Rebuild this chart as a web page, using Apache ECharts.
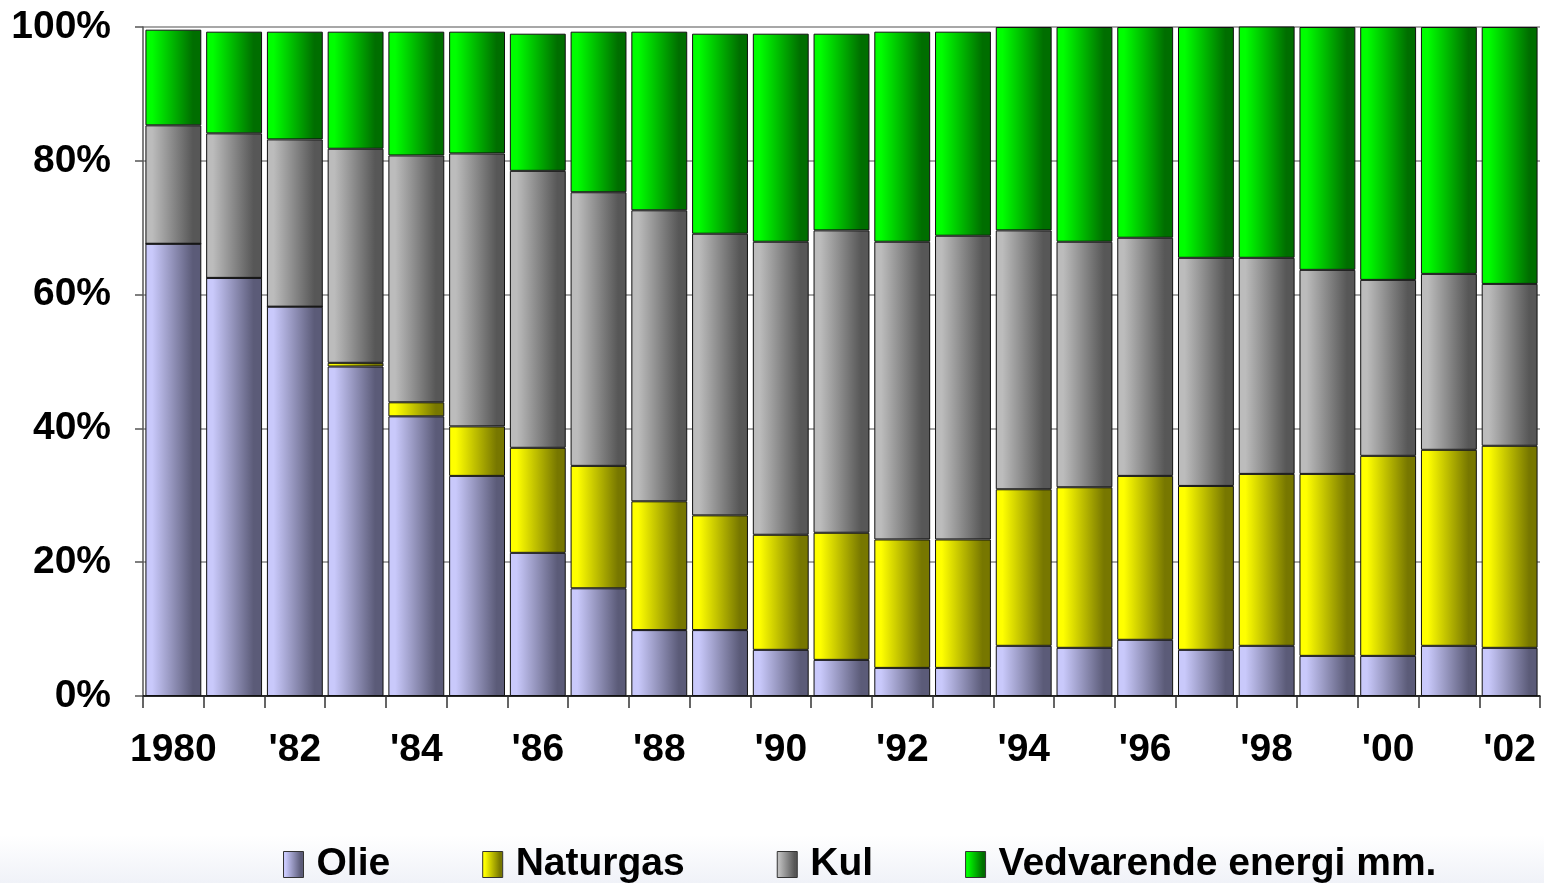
<!DOCTYPE html>
<html>
<head>
<meta charset="utf-8">
<script src="https://cdn.jsdelivr.net/npm/echarts@6/dist/echarts.min.js"></script>
<style>
html,body{margin:0;padding:0;background:#fff;}
#chart{width:1544px;height:883px;}
</style>
</head>
<body>
<div id="chart"></div>
<script>
const categories = ['1980',"'81","'82","'83","'84","'85","'86","'87","'88","'89","'90","'91","'92","'93","'94","'95","'96","'97","'98","'99","'00","'01","'02"];
const olie      = [67.6,62.5,58.2,49.25,41.8,32.9,21.4,16.1,9.85,9.85,6.9,5.4,4.2,4.2,7.5,7.2,8.4,6.9,7.5,6.0,6.0,7.5,7.2];
const naturgas  = [0,0,0,0.55,2.1,7.4,15.7,18.3,19.25,17.15,17.2,19.0,19.2,19.2,23.4,24.0,24.5,24.5,25.7,27.2,29.9,29.3,30.2];
const kul       = [17.7,21.6,25.0,32.0,36.9,40.8,41.4,40.9,43.5,42.1,43.8,45.2,44.5,45.4,38.7,36.7,35.6,34.1,32.3,30.5,26.3,26.3,24.2];
const vedvarende= [14.3,15.2,16.1,17.5,18.5,18.2,20.5,24.0,26.7,29.9,31.1,29.4,31.4,30.5,30.4,32.1,31.5,34.5,34.8,36.3,37.8,36.9,38.4];
const yTicks = [0,20,40,60,80,100];
const seriesNames = ['Olie','Naturgas','Kul','Vedvarende energi mm.'];

function grad(light, dark){
  return new echarts.graphic.LinearGradient(0,0,1,0,[
    {offset:0,color:light},{offset:0.12,color:light},{offset:0.85,color:dark},{offset:1,color:dark}
  ]);
}
const fills = [
  grad('#c9c9fb','#5b5b78'),
  grad('#ffff00','#777700'),
  grad('#bcbcbc','#575757'),
  grad('#00ff00','#006e00')
];
const dataSets = [olie, naturgas, kul, vedvarende];
const font = '"Liberation Sans", Arial, sans-serif';

const chart = echarts.init(document.getElementById('chart'), null, {renderer:'canvas'});
chart.setOption({
  animation:false,
  backgroundColor:'#ffffff',
  graphic:[{
    type:'rect', left:0, top:835, silent:true, z:-10,
    shape:{width:1544,height:48},
    style:{fill:new echarts.graphic.LinearGradient(0,0,0,1,[{offset:0,color:'#ffffff'},{offset:1,color:'#f0f2f8'}])}
  }],
  grid:{left:143,right:4,top:27,bottom:187,containLabel:false},
  legend:{
    data:seriesNames,
    left:278, top:840,
    itemWidth:20, itemHeight:26, itemGap:92,
    icon:'rect',
    itemStyle:{borderColor:'#333',borderWidth:1},
    textStyle:{fontFamily:font,fontSize:39,fontWeight:'bold',color:'#000',padding:[0,0,0,8]}
  },
  xAxis:{
    type:'category',
    data:categories,
    boundaryGap:true,
    axisLine:{lineStyle:{color:'#000',width:1.5}},
    axisTick:{show:true,interval:0,length:12,lineStyle:{color:'#333',width:1.5}},
    axisLabel:{interval:1,margin:35,fontFamily:font,fontSize:39,fontWeight:'bold',color:'#000'}
  },
  yAxis:{
    type:'value',
    min:yTicks[0], max:yTicks[yTicks.length-1], interval:20,
    axisLine:{show:true,lineStyle:{color:'#555',width:1.5}},
    axisTick:{show:true,length:8,lineStyle:{color:'#555',width:1.5}},
    axisLabel:{margin:32,formatter:'{value}%',fontFamily:font,fontSize:39,fontWeight:'bold',color:'#000'},
    splitLine:{show:true,lineStyle:{color:'#8a8a8a',width:1.5}}
  },
  series:dataSets.map((d,i)=>({
    name:seriesNames[i],
    type:'bar',
    stack:'total',
    data:d,
    barCategoryGap:'8%',
    itemStyle:{color:fills[i],borderColor:'#111',borderWidth:1}
  }))
});
</script>
</body>
</html>
